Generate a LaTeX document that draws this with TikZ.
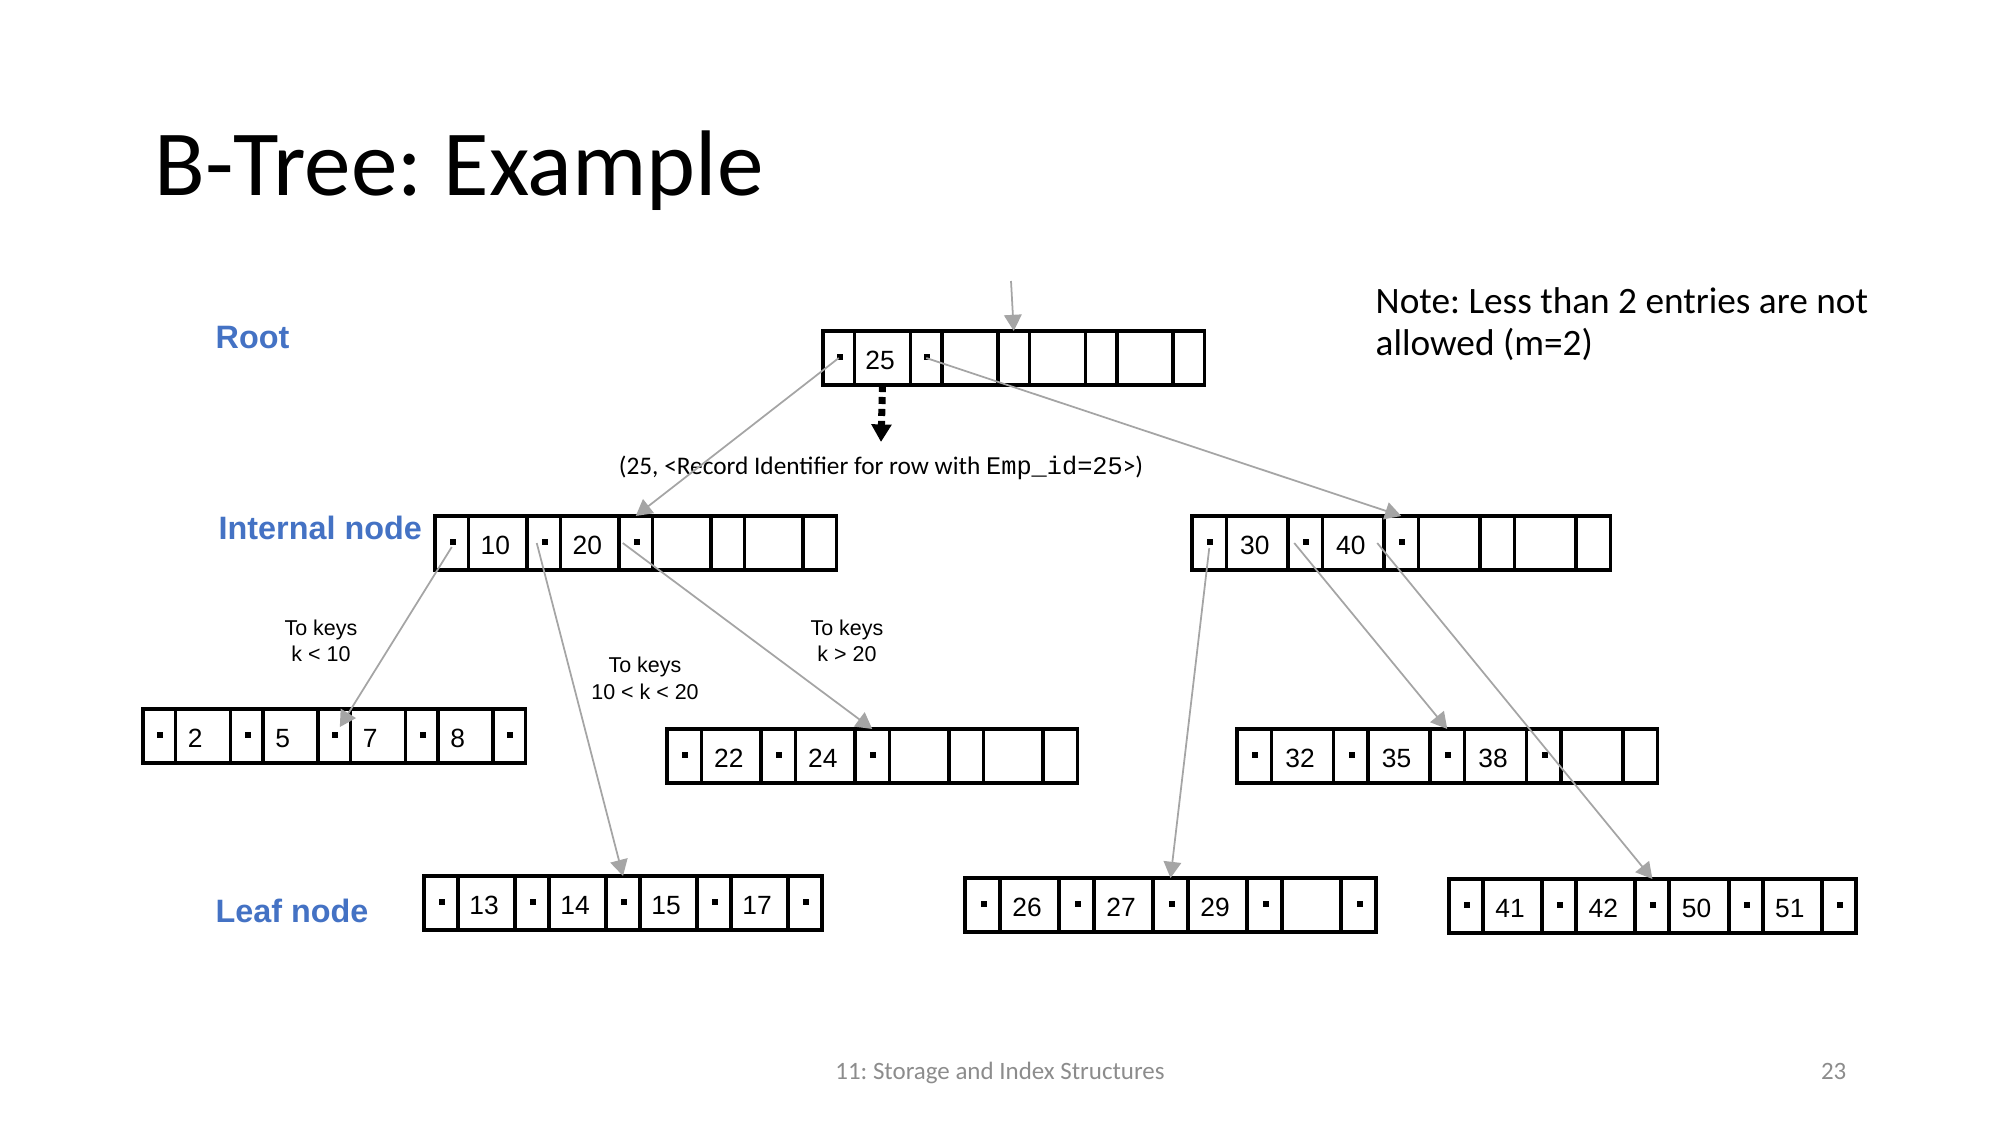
\documentclass[tikz,border=0pt]{standalone}
\usepackage{fontspec}
\setmainfont{Carlito}
\setmonofont{Liberation Mono}
\newfontfamily\arialfont{Liberation Sans}
\usetikzlibrary{arrows.meta}

\definecolor{lblblue}{HTML}{4472C4}
\definecolor{linkgray}{HTML}{A5A5A5}
\definecolor{footgray}{HTML}{8C8C8C}

\newcommand{\keykern}{1.4pt}
% one B-tree record: name, left x, top y, pointer width, key width, keys, pointer dots
\newcommand{\btrec}[7]{%
  \foreach \kk [count=\j] in {#6}
    \node[keycell, minimum width=#5*0.01cm] (#1-k\j) at ({#2+\j*#4+(\j-1)*#5}, #3) {\kk\kern\keykern};
  \foreach \dd [count=\j from 0] in {#7} {
    \node[ptrcell, minimum width=#4*0.01cm] (#1-p\j) at ({#2+\j*(#4+#5)}, #3) {};
    \ifnum\dd=1 \fill (#1-p\j.center) ++(-2,-4) rectangle ++(6,6);\fi
  }%
}

\begin{document}
\frenchspacing
\begin{tikzpicture}[
  x=0.01cm, y=-0.01cm,
  cell/.style={draw, line width=1.1pt, inner sep=0pt, outer sep=0pt,
    minimum height=0.54cm, anchor=north west,
    font=\arialfont\fontsize{7.5}{9}\selectfont},
  ptrcell/.style={cell},
  keycell/.style={cell, text height=6.4pt, text depth=0pt},
  link/.style={color=linkgray, line width=0.5pt, -{Triangle[length=4.6pt,width=5pt]}},
  tierlabel/.style={anchor=base west, inner sep=0pt, text=lblblue,
    font=\arialfont\bfseries\fontsize{9.2}{11}\selectfont},
  keyrange/.style={anchor=base, align=center, inner sep=0pt,
    font=\arialfont\fontsize{6.1}{7.4}\selectfont}
]
  \useasboundingbox (0,0) rectangle (2000,1125);

  \node[anchor=base west, inner sep=0pt, font=\fontsize{26.5}{32}\selectfont] (title) at (154,196) {B-Tree: Example};
  \node[anchor=base west, inner sep=0pt, align=left, font=\fontsize{10.6}{12.2}\selectfont] (note) at (1375,356)
    {Note: Less than 2 entries are not\\allowed (m=2)};

  \node[tierlabel] (lroot) at (215,349) {Root};
  \node[tierlabel] (linner) at (218,540) {Internal node};
  \node[tierlabel] (lleaf) at (215,922) {Leaf node};

  % records
  \btrec{rt}{823}{331}{31.5}{56}{25,{},{},{}}{1,1,0,0,0}
  \btrec{n10}{435}{516}{33.5}{58.5}{10,20,{},{}}{1,1,1,0,0}
  \btrec{n30}{1192}{516}{34.5}{61.5}{30,40,{},{}}{1,1,1,0,0}
  \begin{scope}
    \renewcommand{\keykern}{4.4pt}
    \btrec{n2}{143}{709}{32.5}{55}{2,5,7,8}{1,1,1,1,1}
  \end{scope}
  \btrec{n22}{667}{729}{34.5}{59.5}{22,24,{},{}}{1,1,1,0,0}
  \btrec{n32}{1237}{729}{34.5}{62}{32,35,38,{}}{1,1,1,1,0}
  \btrec{n13}{424}{876}{34}{57}{13,14,15,17}{1,1,1,1,1}
  \btrec{n26}{965}{878}{35}{59}{26,27,29,{}}{1,1,1,1,1}
  \btrec{n41}{1449}{879}{34}{59.2}{41,42,50,51}{1,1,1,1,1}

  \node[anchor=base, inner sep=0pt, font=\fontsize{7.2}{9}\selectfont] (rid) at (881,475)
    {(25, <Record Identifier for row with \texttt{Emp\_id=25}>)};

  \node[keyrange] (to10) at (321,662) {To keys\\k < 10};
  \node[keyrange] (to1020) at (645,699) {To keys\\10 < k < 20};
  \node[keyrange] (to20) at (847,662) {To keys\\k > 20};

  \coordinate (rtin) at (1011,281);
  \coordinate (ridtip) at (881,442);

  \path[link]
    (rtin) edge (rt-p2.north)
    (rt-p0.center) edge (n10-p2.north)
    (rt-p1.center) edge (n30-p2.north)
    ([yshift=-0.04cm]n10-p0.center) edge[shorten >=3pt] (n2-p2.center)
    ([xshift=-0.07cm]n10-p1.center) edge (n13-p2.north)
    ([xshift=-0.13cm]n10-p2.center) edge (n22-p2.north)
    ([yshift=-0.05cm]n30-p0.center) edge (n26-p2.north)
    ([xshift=-0.11cm]n30-p1.center) edge (n32-p2.north)
    ([xshift=-0.24cm]n30-p2.center) edge (n41-p2.north);

  \draw[line width=2pt, dash pattern=on 2pt off 1.4pt, -{Triangle[length=5pt,width=5.5pt]}]
    (rt-k1.south) -- (ridtip);

  \node[anchor=base, inner sep=0pt, text=footgray, font=\fontsize{7.1}{9}\selectfont] (foot) at (1000,1079)
    {11: Storage and Index Structures};
  \node[anchor=base east, inner sep=0pt, text=footgray, font=\fontsize{7.1}{9}\selectfont] (pgno) at (1847,1079) {23};
\end{tikzpicture}
\end{document}
